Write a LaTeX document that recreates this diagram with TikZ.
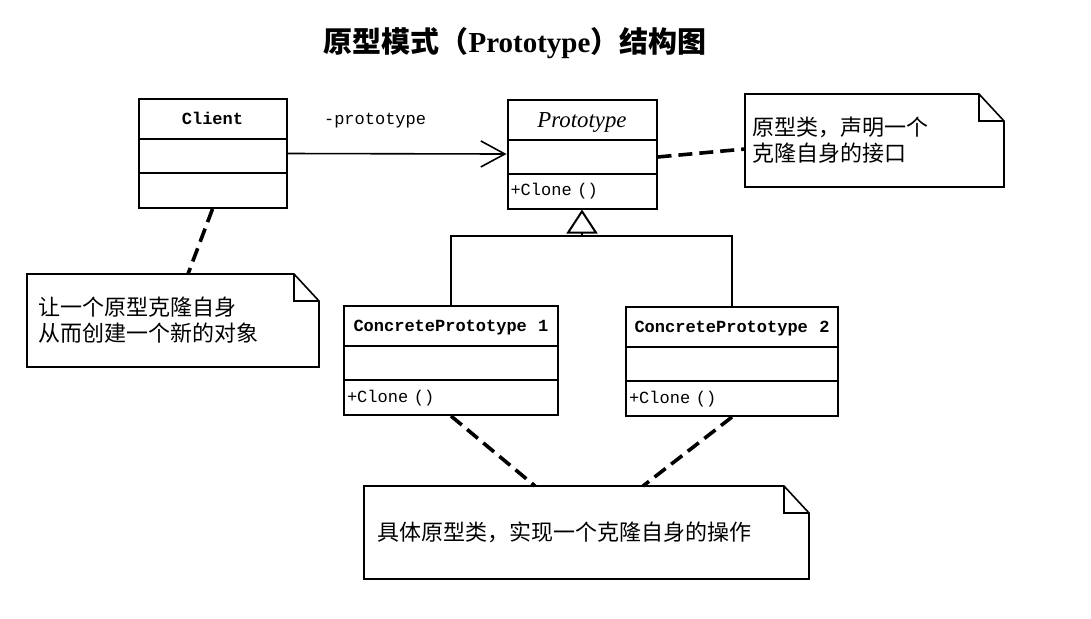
\documentclass[tikz,border=0pt]{standalone}
\usepackage{fontspec}
\setmainfont{Liberation Serif}
\setmonofont{Liberation Mono}
\newfontfamily\cjk{Noto Sans CJK SC}
\usetikzlibrary{shapes.multipart, arrows.meta, calc}
\setlength{\parindent}{0pt}
\newcommand{\hdstrut}{\rule[-6.7pt]{0pt}{19pt}}
\newcommand{\midstrut}{\rule[-8pt]{0pt}{16pt}}
\newcommand{\opstrut}{\rule[-6pt]{0pt}{16.5pt}}
\newcommand{\clshead}[1]{\leavevmode\hfill#1\hfill\null}

\begin{document}
\begin{tikzpicture}[
    x=0.5pt, y=-0.5pt,
    cls/.style={draw, line width=1pt, rectangle split, rectangle split parts=3,
                inner xsep=1.5pt, inner ysep=0pt,
                font=\ttfamily\fontsize{8.5}{10}\selectfont},
    note/.style={outer sep=0pt, inner ysep=0pt, minimum height=46.5pt, align=left,
                 font=\cjk\fontsize{11}{13}\selectfont},
    notebox/.style={line width=0.8pt},
    assoc/.style={-{Straight Barb[length=12pt, width=13pt]}, line width=0.8pt},
    inherit/.style={-{Triangle[open, length=12pt, width=15.5pt]}, line width=1pt},
    anchorlink/.style={line width=1.8pt, dash pattern=on 7pt off 3.5pt},
]
\useasboundingbox (0,0) rectangle (1091,618);

\node[font=\cjk\bfseries\fontsize{14.5}{17}\selectfont] (title) at (515,43)
    {原型模式（{\rmfamily\bfseries Prototype}）结构图};

% classes
\node[cls, text width=71pt] (client) at (212.5,153.5)
    {\clshead{\bfseries\hdstrut Client}\nodepart{second}\midstrut\nodepart{third}\opstrut};
\node[cls, text width=71.5pt] (proto) at (582,154)
    {\clshead{\rmfamily\itshape\fontsize{11.4}{13}\selectfont\rule[-5.5pt]{0pt}{19pt}Prototype}%
     \nodepart{second}\midstrut\nodepart{third}\opstrut+Clone ()};
\node[cls, text width=104pt] (c1) at (451,360.5)
    {\clshead{\bfseries\hdstrut ConcretePrototype\ \ 1}%
     \nodepart{second}\midstrut\nodepart{third}\opstrut+Clone ()};
\node[cls, text width=103pt] (c2) at (732,361.5)
    {\clshead{\bfseries\hdstrut ConcretePrototype\ \ 2}%
     \nodepart{second}\midstrut\nodepart{third}\opstrut+Clone ()};

% notes
\node[note, inner xsep=3.5pt, minimum width=129.5pt, text width=122.5pt] (proto-note) at (874.5,140.5)
    {原型类，声明一个\\克隆自身的接口};
\node[note, inner xsep=5.5pt, minimum width=146pt, text width=135pt] (client-note) at (173,320.5)
    {让一个原型克隆自身\\从而创建一个新的对象};
\node[note, inner xsep=6.5pt, minimum width=222.5pt, text width=209.5pt] (concrete-note) at (586.5,532.5)
    {具体原型类，实现一个克隆自身的操作};
\foreach \n in {proto-note, client-note, concrete-note}{
  \draw[notebox] (\n.south west) -- (\n.north west) -- ([xshift=-12.5pt]\n.north east)
        -- ([yshift=-13.5pt]\n.north east) -- (\n.south east) -- cycle;
  \draw[notebox] ([xshift=-12.5pt]\n.north east) |- ([yshift=-13.5pt]\n.north east);
}

% association
\draw[assoc] (client.east) -- (proto.west)
    node[pos=0.4, above=9pt, font=\ttfamily\fontsize{8.5}{10}\selectfont] (role) {-prototype};

% generalization
\coordinate (join) at ([yshift=-13pt]proto.south);
\draw[line width=1pt] (c1.north) |- (join) -| (c2.north);
\draw[inherit] (join) -- (proto.south);

% note links
\draw[anchorlink] ([yshift=-1.5pt]proto.east) -- ([yshift=-4.25pt]proto-note.west);
\draw[anchorlink] (client.south) -- ([xshift=7.5pt]client-note.north);
\draw[anchorlink] (c1.south) -- ([xshift=-25.75pt]concrete-note.north);
\draw[anchorlink] (c2.south) -- ([xshift=28.25pt]concrete-note.north);
\end{tikzpicture}
\end{document}
